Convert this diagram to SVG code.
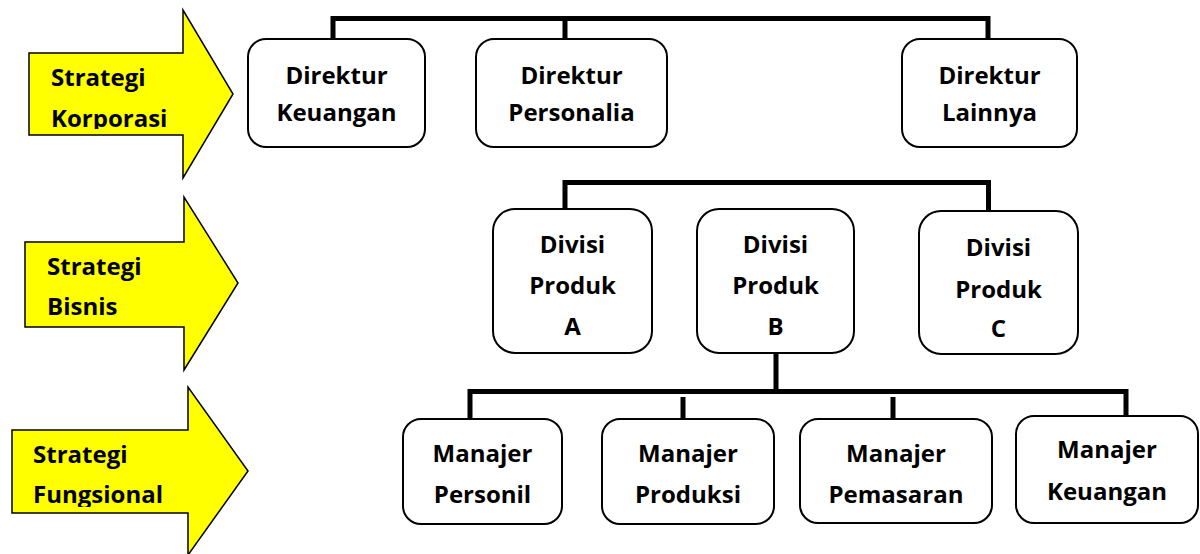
<svg xmlns="http://www.w3.org/2000/svg" width="1200" height="554" viewBox="0 0 1200 554">
<style>
.arrow{fill:#FFFF00;stroke:#000;stroke-width:1.5;stroke-linejoin:miter}
.box{fill:#fff;stroke:#000;stroke-width:2}
.t{font-family:"Open Sans","Liberation Sans",sans-serif;font-weight:bold;font-size:24px;fill:#000;text-anchor:middle}
.at{font-family:"Open Sans","Liberation Sans",sans-serif;font-weight:bold;font-size:24px;fill:#000}
.conn{fill:none;stroke:#000;stroke-width:5;stroke-linejoin:miter;stroke-linecap:butt}
</style>
<defs>
<clipPath id="c1"><rect x="0" y="0" width="260" height="129"/></clipPath>
<clipPath id="c3"><rect x="0" y="380" width="260" height="127"/></clipPath>
</defs>
<rect width="1200" height="554" fill="#fff"/>
<g id="arrow-korporasi">
<polygon class="arrow" points="29,53 183,53 183,10 233,94 183,178 183,135 29,135"/>
<g clip-path="url(#c1)">
<text class="at" x="51" y="86">Strategi</text>
<text class="at" x="51" y="127">Korporasi</text>
</g>
</g>
<g id="arrow-bisnis">
<polygon class="arrow" points="25,242 184,242 184,197 238,283 184,370 184,327 25,327"/>
<text class="at" x="47" y="275">Strategi</text>
<text class="at" x="47" y="315">Bisnis</text>
</g>
<g id="arrow-fungsional">
<polygon class="arrow" points="12,430 188,430 188,387 248,471 188,555 188,513 12,513"/>
<g clip-path="url(#c3)">
<text class="at" x="33" y="463">Strategi</text>
<text class="at" x="33" y="503">Fungsional</text>
</g>
</g>
<g id="connectors">
<path class="conn" d="M333,39 V18.5 H988 V39"/>
<path class="conn" d="M565,18.5 V39"/>
<path class="conn" d="M565,208 V182.5 H988.5 V210"/>
<path class="conn" d="M776,353 V391"/>
<path class="conn" d="M470,419 V391.5 H1126 V416"/>
<path class="conn" d="M683,397 V419"/>
<path class="conn" d="M893,397 V419"/>
</g>
<g id="direktur-keuangan">
<rect class="box" x="248" y="39" width="177" height="108" rx="18"/>
<text class="t" x="336.5" y="84">Direktur</text>
<text class="t" x="336.5" y="121">Keuangan</text>
</g>
<g id="direktur-personalia">
<rect class="box" x="476" y="39" width="191" height="108" rx="18"/>
<text class="t" x="571.5" y="84">Direktur</text>
<text class="t" x="571.5" y="121">Personalia</text>
</g>
<g id="direktur-lainnya">
<rect class="box" x="902" y="39" width="175" height="108" rx="18"/>
<text class="t" x="989.5" y="84">Direktur</text>
<text class="t" x="989.5" y="121">Lainnya</text>
</g>
<g id="divisi-a">
<rect class="box" x="493" y="209" width="159" height="144" rx="22"/>
<text class="t" x="572.5" y="253">Divisi</text>
<text class="t" x="572.5" y="294">Produk</text>
<text class="t" x="572.5" y="335">A</text>
</g>
<g id="divisi-b">
<rect class="box" x="697" y="209" width="157" height="144" rx="22"/>
<text class="t" x="775.5" y="253">Divisi</text>
<text class="t" x="775.5" y="294">Produk</text>
<text class="t" x="775.5" y="335">B</text>
</g>
<g id="divisi-c">
<rect class="box" x="919" y="211" width="159" height="143" rx="22"/>
<text class="t" x="998.5" y="256">Divisi</text>
<text class="t" x="998.5" y="298">Produk</text>
<text class="t" x="998.5" y="337">C</text>
</g>
<g id="manajer-personil">
<rect class="box" x="403" y="419" width="159" height="105" rx="18"/>
<text class="t" x="482.5" y="462">Manajer</text>
<text class="t" x="482.5" y="503">Personil</text>
</g>
<g id="manajer-produksi">
<rect class="box" x="602" y="419" width="172" height="105" rx="18"/>
<text class="t" x="688" y="462">Manajer</text>
<text class="t" x="688" y="503">Produksi</text>
</g>
<g id="manajer-pemasaran">
<rect class="box" x="800" y="419" width="192" height="104" rx="18"/>
<text class="t" x="896" y="462">Manajer</text>
<text class="t" x="896" y="503">Pemasaran</text>
</g>
<g id="manajer-keuangan">
<rect class="box" x="1016" y="416" width="182" height="107" rx="18"/>
<text class="t" x="1107" y="458">Manajer</text>
<text class="t" x="1107" y="500">Keuangan</text>
</g>
</svg>
